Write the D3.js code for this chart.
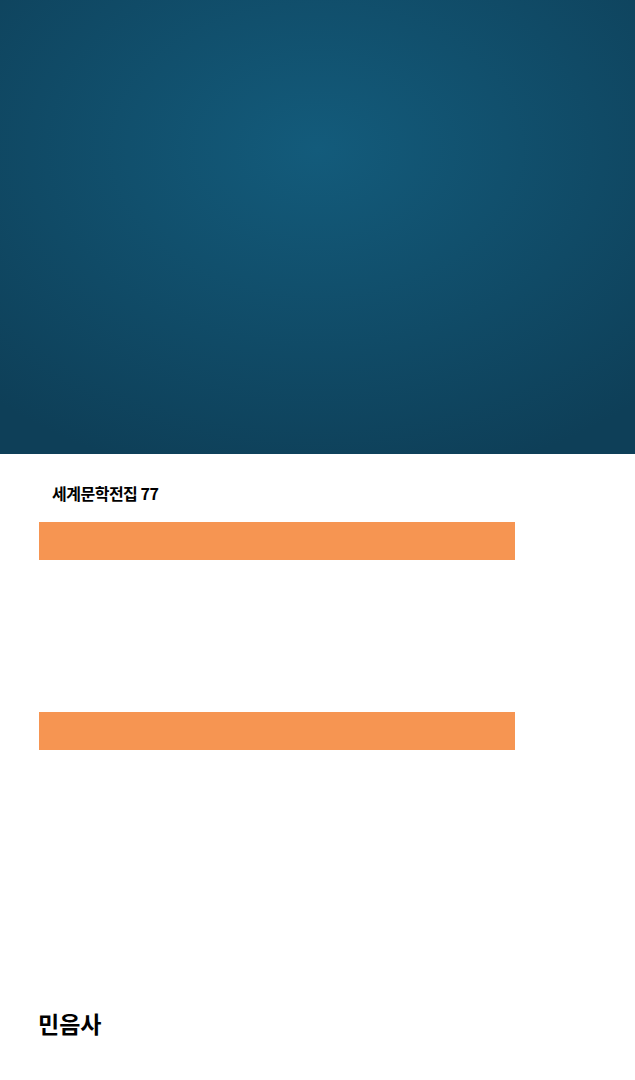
<!DOCTYPE html>
<html>
<head>
<meta charset="utf-8">
<script src="https://cdn.jsdelivr.net/npm/d3@7"></script>
<style>
  body { margin: 0; background: #fff; }
</style>
</head>
<body>
<div id="chart"></div>
<script>
const series = "세계문학전집 77";
const publisher = "민음사";
const bands = ["upper", "lower"];
const bandValues = [1, 1];

const w = 635, h = 1080;

const svg = d3.select("#chart").append("svg")
    .attr("width", w).attr("height", h);

const defs = svg.append("defs");
const grad = defs.append("radialGradient")
    .attr("id", "bg").attr("cx", "50%").attr("cy", "33%").attr("r", "75%");
grad.append("stop").attr("offset", "0%").attr("stop-color", "#135b7b");
grad.append("stop").attr("offset", "100%").attr("stop-color", "#0e3f58");

svg.append("rect").attr("width", w).attr("height", 454).attr("fill", "url(#bg)");

// two orange stripes
const y = d3.scaleBand().domain(bands).range([522, 750]).paddingInner(0.8);
const x = d3.scaleLinear().domain([0, 1]).range([39, 515]);

svg.selectAll(".stripe")
    .data(bands)
    .enter().append("rect")
    .attr("class", "stripe")
    .attr("x", x(0))
    .attr("y", d => y(d))
    .attr("width", (d, i) => x(bandValues[i]) - x(0))
    .attr("height", y.bandwidth())
    .attr("fill", "#f69552");

svg.append("text")
    .attr("x", 52).attr("y", 500)
    .attr("font-family", "Noto Sans CJK KR")
    .attr("font-weight", "bold")
    .attr("font-size", 16)
    .attr("letter-spacing", -0.5)
    .text(series);

svg.append("text")
    .attr("x", 38).attr("y", 1033)
    .attr("font-family", "Noto Sans CJK KR")
    .attr("font-weight", "bold")
    .attr("font-size", 23)
    .text(publisher);
</script>
</body>
</html>
